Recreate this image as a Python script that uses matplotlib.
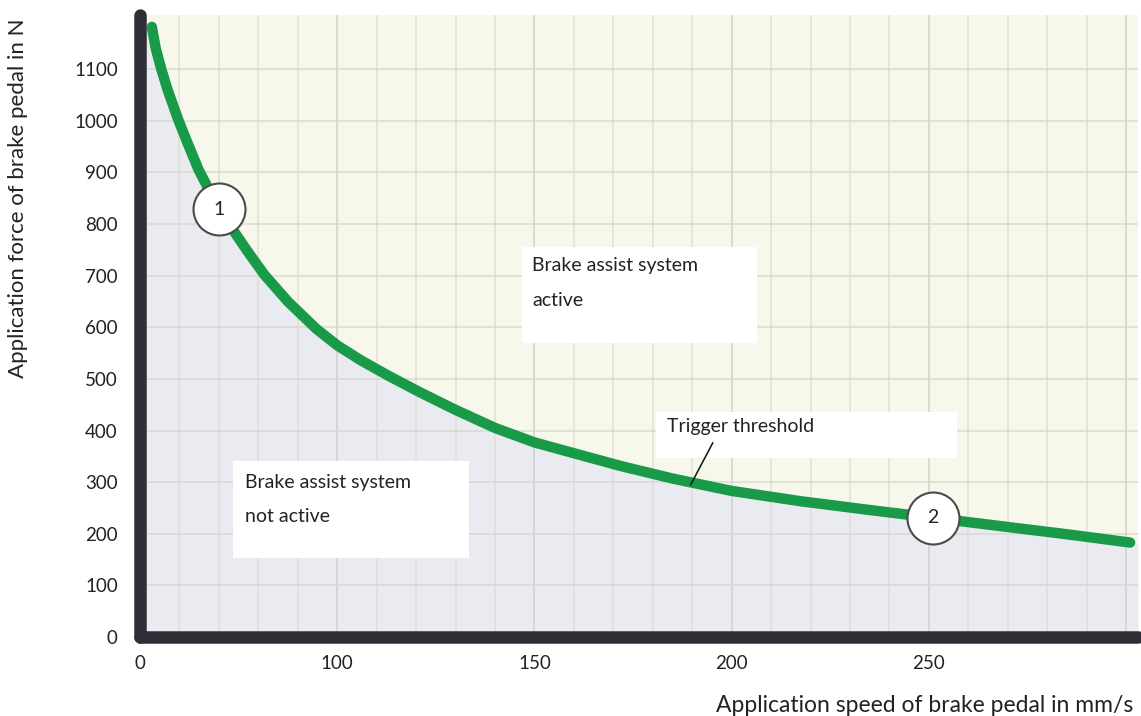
import numpy as np
import matplotlib.pyplot as plt
from matplotlib.patches import Rectangle

plt.rcParams['font.family'] = ['Lato', 'DejaVu Sans']

# trigger threshold curve
# (the x axis is schematic: the "0" label sits where 50 would be)
speed = [53, 54, 55.4, 57, 59.7, 62, 64.8, 67.5, 70.1, 73.2, 77, 81.5, 87.6, 94.7, 100,
         106, 113, 121, 130, 140, 150, 160, 172, 185, 200, 217.5, 235, 251, 268, 285, 301]
force = [1182, 1140, 1100, 1060, 1002, 958, 906, 866, 829, 793, 750, 702, 649, 597, 565,
         536, 506, 474, 440, 405, 377, 356, 331, 307, 283, 263, 246, 231, 215, 199, 183]

xtick_pos = [50, 100, 150, 200, 250]
xtick_lbl = ['0', '100', '150', '200', '250']
ytick_pos = list(range(0, 1200, 100))

markers = [(70.1, 829, '1'), (251, 231, '2')]

x0, x1 = 50, 303
y0, y1 = 0, 1205

fig = plt.figure(figsize=(11.41, 7.16), dpi=100)
ax = fig.add_axes([140/1141, 79/716, 998/1141, 622/716])
ax.set_facecolor('#f7f8eb')
ax.set_xlim(x0, x1)
ax.set_ylim(y0, y1)

# region below the threshold
fx = np.r_[x0, speed, x1]
fy = np.r_[force[0], force, force[-1]]
ax.fill_between(fx, fy, 0, color='#e9ebf0', lw=0, zorder=0)

# grid
for gx in range(60, 301, 10):
    c = '#cdcec3' if gx % 50 == 0 else '#dcddd2'
    ax.axvline(gx, color=c, lw=1.2, alpha=0.8, zorder=0.5)
for gy in range(100, 1200, 100):
    ax.axhline(gy, color='#d6d7cc', lw=1.2, alpha=0.8, zorder=0.5)

ax.plot(speed, force, color='#199a48', lw=7.5, solid_capstyle='round',
        solid_joinstyle='round', zorder=3)

for mx, my, lbl in markers:
    ax.scatter([mx], [my], s=1400, facecolor='white', edgecolor='#4a4a4a',
               linewidth=1.5, zorder=4)
    ax.text(mx, my, lbl, ha='center', va='center', fontsize=14, color='#222', zorder=5)

# annotation boxes
fs = 14
ax.add_patch(Rectangle((146.8, 570), 59.5, 186.5, facecolor='white', lw=0, zorder=2))
ax.text(149.4, 720, 'Brake assist system', fontsize=fs, va='center', color='#222', zorder=2.5)
ax.text(149.4, 652, 'active', fontsize=fs, va='center', color='#222', zorder=2.5)

ax.add_patch(Rectangle((73.7, 153), 59.7, 188.5, facecolor='white', lw=0, zorder=2))
ax.text(76.5, 299, 'Brake assist system', fontsize=fs, va='center', color='#222', zorder=2.5)
ax.text(76.5, 233, 'not active', fontsize=fs, va='center', color='#222', zorder=2.5)

ax.add_patch(Rectangle((180.8, 347), 76.2, 89.5, facecolor='white', lw=0, zorder=2))
ax.text(183.5, 407, 'Trigger threshold', fontsize=fs, va='center', color='#222', zorder=2.5)
ax.plot([195.2, 189.6], [376, 295], color='#111', lw=1.1, zorder=3.5)

# axes
for s in ['top', 'right']:
    ax.spines[s].set_visible(False)
for s in ['left', 'bottom']:
    ax.spines[s].set_linewidth(9)
    ax.spines[s].set_color('#2e2e36')
    ax.spines[s].set_capstyle('round')
    ax.spines[s].set_zorder(6)

ax.set_xticks(xtick_pos)
ax.set_xticklabels(xtick_lbl)
ax.set_yticks(ytick_pos)
ax.tick_params(length=0, labelsize=13.5, colors='#222')
ax.tick_params(axis='x', pad=13)
ax.tick_params(axis='y', pad=16)

fig.text(18/1141, 1 - 198/716, 'Application force of brake pedal in N', rotation=90,
         ha='center', va='center', fontsize=16, color='#222')
fig.text(1133/1141, 1 - 705/716, 'Application speed of brake pedal in mm/s',
         ha='right', va='center', fontsize=16.5, color='#222')

fig.savefig('out.png', dpi=100)
